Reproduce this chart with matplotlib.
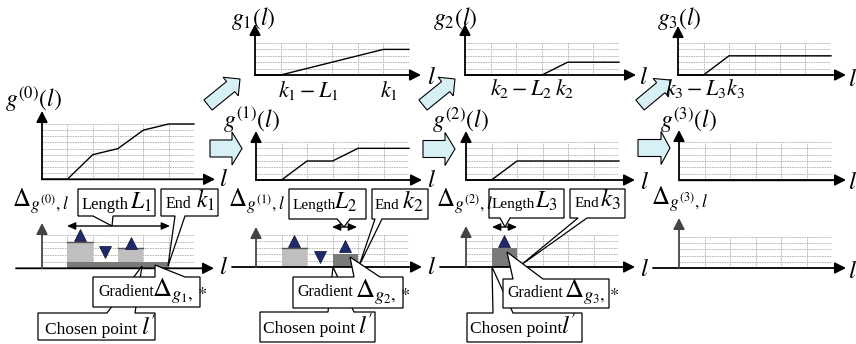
import matplotlib
matplotlib.use("Agg")
import matplotlib.pyplot as plt
from matplotlib.patches import Polygon, FancyArrow

plt.rcParams["mathtext.fontset"] = "stix"
plt.rcParams["font.family"] = ["Liberation Serif", "DejaVu Serif"]

W, H = 856, 344

# ---- data (grid units: 6 columns along l) ----
cols = [0, 1, 2, 3, 4, 5, 6]
g0_vals = [0, 0, 4, 5, 8, 9, 9]          # g^(0)(l)
g1_vals = [0, 0, 1, 2, 3, 4, 4]          # g_1(l)
g2_vals = [0, 0, 0, 0, 2, 2, 2]          # g_2(l)
g3_vals = [0, 0, 3, 3, 3, 3, 3]          # g_3(l)
r1_vals = [0, 0, 3, 3, 5, 5, 5]          # g^(1)(l)
r2_vals = [0, 0, 3, 3, 3, 3, 3]          # g^(2)(l)
r3_vals = [0, 0, 0, 0, 0, 0, 0]          # g^(3)(l)

bar_left = [0, 1, 2, 3, 4, 5]
d0_grad = [0, 1, 1, 1, 1, 0]             # gradient part of Delta_{g^(0),l}
d0_rest = [0, 3, 0, 2, 0, 0]             # remaining part
d1_grad = [0, 0, 0, 2, 0, 0]
d1_rest = [0, 3, 0, 0, 0, 0]
d2_grad = [0, 3, 0, 0, 0, 0]
d2_rest = [0, 0, 0, 0, 0, 0]

d0_up_x, d0_up_y, d0_dn_x, d0_dn_y = [1.5, 3.5], [5.0, 3.8], [2.5], [2.5]
d1_up_x, d1_up_y, d1_dn_x, d1_dn_y = [1.5, 3.5], [4.1, 3.3], [2.5], [1.6]
d2_up_x, d2_up_y = [1.5], [4.1]

LIGHT = "#bfbfbf"
DARK = "#7a7a7a"
NAVY = "#1f2a6a"
CYAN = "#d6f0f6"

fig = plt.figure(figsize=(W / 100, H / 100), dpi=100)
ax = fig.add_axes([0, 0, 1, 1])
ax.set_xlim(0, W)
ax.set_ylim(H, 0)
ax.axis("off")
ax.set_zorder(10)
ax.patch.set_alpha(0)


def panel(x0, axis_y, x1, top_y, nrows, ytip, xstart, xend, ycol="black"):
    w = x1 - x0
    h = axis_y - top_y
    a = fig.add_axes([x0 / W, (H - axis_y) / H, w / W, h / H])
    a.set_xlim(0, 6)
    a.set_ylim(0, nrows)
    a.axis("off")
    a.patch.set_alpha(0)
    gkw = dict(color="#b0b0b0", lw=0.6, ls=(0, (2, 1)), zorder=1)
    for c in range(1, 7):
        a.plot([c, c], [0, nrows], **gkw)
    for r in range(1, nrows + 1):
        a.plot([0, 6], [r, r], **gkw)
    sx = 6 / w
    sy = nrows / h
    ap = dict(arrowstyle="-|>,head_length=0.55,head_width=0.28", lw=1.3,
              color="black", shrinkA=0, shrinkB=0, mutation_scale=12)
    a.annotate("", xy=((xend - x0) * sx, 0), xytext=((xstart - x0) * sx, 0),
               arrowprops=ap, annotation_clip=False, zorder=5)
    ap2 = dict(ap)
    ap2["color"] = ycol
    a.annotate("", xy=(0, (axis_y - ytip) * sy), xytext=(0, 0),
               arrowprops=ap2, annotation_clip=False, zorder=5)
    return a


def curve(a, vals):
    a.plot(cols, vals, color="black", lw=1.0, zorder=3, clip_on=False)


def bars(a, grad, rest, lt_edge=True):
    a.bar(bar_left, grad, width=1, align="edge", color=DARK, lw=0, zorder=2)
    a.bar(bar_left, rest, bottom=grad, width=1, align="edge", color=LIGHT,
          lw=0, zorder=2)
    for x, g, r in zip(bar_left, grad, rest):
        if r > 0 and lt_edge:
            a.plot([x, x + 1], [g + r, g + r], color="#555555", lw=1.0, zorder=3)


def tris(a, ux, uy, dx=(), dy=()):
    a.plot(ux, uy, ls="none", marker="^", ms=9, color=NAVY, mec="#111133",
           mew=0.5, zorder=4, clip_on=False)
    if dx:
        a.plot(dx, dy, ls="none", marker="v", ms=9, color=NAVY, mec="#111133",
               mew=0.5, zorder=4, clip_on=False)


# g^(0)
p = panel(42, 179.3, 194, 124, 9, 111, 42, 215)
curve(p, g0_vals)
# top row: g_1, g_2, g_3
p = panel(255, 75, 409, 43, 5, 24, 255, 421)
curve(p, g1_vals)
p = panel(465, 75, 619, 43, 5, 24, 465, 636)
curve(p, g2_vals)
p = panel(678, 75, 831, 43, 5, 26, 678, 846)
curve(p, g3_vals)
# middle row: g^(1), g^(2), g^(3)
p = panel(256, 180, 409, 142, 6, 131, 256, 422)
curve(p, r1_vals)
p = panel(466, 180, 619, 142, 6, 131, 466, 635)
curve(p, r2_vals)
p = panel(679, 180, 832, 142, 6, 130, 679, 846)
curve(p, r3_vals)
# bottom row: gradients
p = panel(42, 268.3, 194, 235, 5, 223, 16, 214, ycol="#444444")
bars(p, d0_grad, d0_rest)
tris(p, d0_up_x, d0_up_y, d0_dn_x, d0_dn_y)
p = panel(256, 267, 409, 235, 5, 227, 232, 422, ycol="#444444")
bars(p, d1_grad, d1_rest)
tris(p, d1_up_x, d1_up_y, d1_dn_x, d1_dn_y)
p = panel(466, 267, 619, 235, 5, 226, 440, 635, ycol="#444444")
bars(p, d2_grad, d2_rest)
tris(p, d2_up_x, d2_up_y)
p = panel(679, 268, 832, 237, 5, 218, 653, 846, ycol="#444444")


def T(x, y, s, size, ha="left", va="baseline", **kw):
    ax.text(x, y, s, fontsize=size, ha=ha, va=va, color="black", zorder=20, **kw)


# panel titles
T(5, 107, r"$g^{(0)}(l)$", 17)
T(231, 25, r"$g_1(l)$", 17)
T(433, 25, r"$g_2(l)$", 17)
T(657, 25, r"$g_3(l)$", 17)
T(223, 128, r"$g^{(1)}(l)$", 17)
T(432, 128, r"$g^{(2)}(l)$", 17)
T(660, 128, r"$g^{(3)}(l)$", 17)
T(12, 207, r"$\Delta_{g^{(0)},l}$", 18)
T(228, 207, r"$\Delta_{g^{(1)},l}$", 18)
T(436, 207, r"$\Delta_{g^{(2)},l}$", 18)
T(651, 205, r"$\Delta_{g^{(3)},l}$", 18)

# axis names
for x, y in [(219, 186), (427, 84), (639, 84), (848, 86), (427, 187),
             (640, 189), (848, 189), (219, 274), (427, 274), (640, 276),
             (848, 278)]:
    T(x, y, r"$l$", 18)

# k / L positions on the top row
T(278, 97, r"$k_1-L_1$", 16)
T(380, 97, r"$k_1$", 16)
T(490, 95, r"$k_2-L_2$", 16)
T(555, 95, r"$k_2$", 16)
T(665, 95, r"$k_3-L_3k_3$", 16)


# block arrows
def block(x, y, x2, y2, w, hw, hl):
    ax.add_patch(FancyArrow(x, y, x2 - x, y2 - y, width=w, head_width=hw,
                            head_length=hl, length_includes_head=True,
                            fc=CYAN, ec="black", lw=0.8, zorder=15))


block(208, 105, 240, 79, 13, 24, 12)
block(423, 105, 455, 79, 13, 24, 12)
block(640, 105, 670, 80, 13, 24, 12)
block(210, 148.5, 242, 148.5, 17, 33, 10)
block(423, 149, 455, 149, 17, 33, 10)
block(638, 148, 670, 148, 17, 33, 9)


# callouts
def callout(x0, y0, x1, y1, side, b0, b1, tip, z=16):
    if side == "bottom":
        pts = [(x0, y0), (x1, y0), (x1, y1), (b1, y1), tip, (b0, y1), (x0, y1)]
    else:
        pts = [(x0, y0), (b0, y0), tip, (b1, y0), (x1, y0), (x1, y1), (x0, y1)]
    ax.add_patch(Polygon(pts, closed=True, fc="white", ec="black", lw=0.9,
                         zorder=z, joinstyle="miter"))


def dbl(x0, x1, y):
    ax.annotate("", xy=(x1, y), xytext=(x0, y), zorder=17,
                arrowprops=dict(arrowstyle="<|-|>,head_length=0.5,head_width=0.22",
                                lw=1.0, color="black", shrinkA=0, shrinkB=0,
                                mutation_scale=10))


# Delta_{g^(0)} annotations
dbl(67, 170, 226)
callout(78, 189, 155, 216, "bottom", 93, 113, (112, 226))
T(82, 209, "Length", 12)
T(130, 209, r"$L_1$", 17)
callout(161, 189, 218, 216, "bottom", 175, 185, (168, 266))
T(166, 208, "End", 11.5)
T(196, 208, r"$k_1$", 17)
callout(38, 313, 155, 340, "top", 107, 135, (142, 266))
T(45, 334, "Chosen point", 12.5)
T(141, 335, r"$l'$", 18)
callout(93, 277, 200, 307, "top", 155, 185, (155, 265))
T(98, 296, "Gradient", 11.5)
T(152, 296, r"$\Delta_{g_1,*}$", 19)

# Delta_{g^(1)} annotations
dbl(332, 357, 227)
callout(289, 189, 366, 219, "bottom", 337, 350, (344, 227))
T(293, 209, "Length", 11)
T(334, 209, r"$L_2$", 17)
callout(372, 189, 428, 219, "bottom", 375, 382, (359, 266))
T(375, 209, "End", 11)
T(402, 209, r"$k_2$", 18)
callout(260, 312, 375, 342, "top", 328, 354, (333, 267))
T(263, 333, "Chosen point", 12.5)
T(358, 334, r"$l'$", 18)
callout(293, 277, 403, 308, "top", 354, 380, (350, 257))
T(297, 296, "Gradient", 11.5)
T(355, 297, r"$\Delta_{g_2,*}$", 19)

# Delta_{g^(2)} annotations
dbl(492, 517, 227)
callout(489, 189, 564, 218, "bottom", 500, 510, (505, 227))
T(492, 208, "Length", 11)
T(535, 208, r"$L_3$", 17)
callout(570, 189, 625, 218, "bottom", 578, 587, (521, 265))
T(575, 207, "End", 11)
T(600, 207, r"$k_3$", 18)
callout(467, 313, 582, 342, "top", 493, 513, (492, 267))
T(470, 333, "Chosen point", 12.5)
T(561, 334, r"$l'$", 18)
callout(503, 279, 609, 308, "top", 513, 543, (507, 252))
T(507, 297, "Gradient", 11.5)
T(564, 297, r"$\Delta_{g_3,*}$", 19)

fig.savefig("out.png", dpi=100)
